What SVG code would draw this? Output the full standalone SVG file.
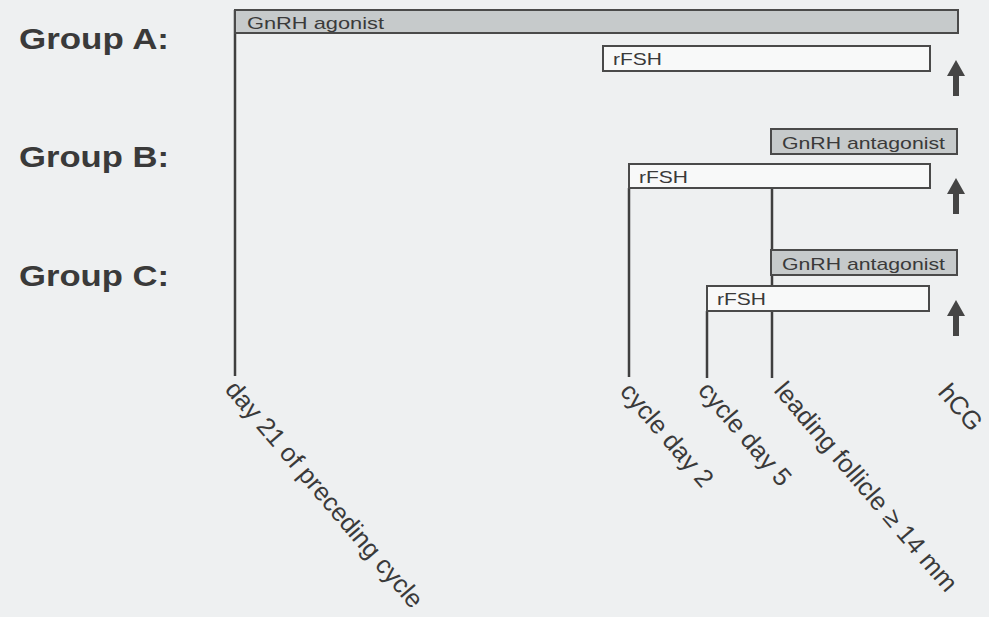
<svg xmlns="http://www.w3.org/2000/svg" xmlns:xlink="http://www.w3.org/1999/xlink" width="989" height="617" viewBox="0 0 989 617">
  <defs>
    <style>
      .bg { fill: #eef0f1; }
      .grp { font-family: "Liberation Sans", Arial, sans-serif; font-weight: bold; font-size: 30px; fill: #3a3a3a; }
      .lbl { font-family: "Liberation Sans", Arial, sans-serif; font-size: 17px; fill: #3a3a3a; }
      .tp { font-family: "Liberation Sans", Arial, sans-serif; font-size: 25.5px; fill: #3a3a3a; }
      .dark { fill: #c6cacb; stroke: #4a4a4a; stroke-width: 2; }
      .light { fill: #f8f9f9; stroke: #4a4a4a; stroke-width: 2; }
      .vline { stroke: #3f3f3f; stroke-width: 2.5; fill: none; }
      .arrow { fill: #454545; }
    </style>
    <path id="arr" class="arrow" d="M0,0 L9,16 L3,16 L3,36 L-3,36 L-3,16 L-9,16 Z"/>
  </defs>
  <rect class="bg" x="0" y="0" width="989" height="617"/>

  <g id="connectors">
    <line class="vline" x1="235" y1="10" x2="235" y2="376"/>
    <line class="vline" x1="629" y1="188" x2="629" y2="377"/>
    <line class="vline" x1="707" y1="311" x2="707" y2="378"/>
    <line class="vline" x1="772" y1="188" x2="772" y2="378"/>
  </g>

  <g id="group-labels">
    <text class="grp" x="19" y="49" textLength="150" lengthAdjust="spacingAndGlyphs">Group A:</text>
    <text class="grp" x="19" y="167" textLength="150" lengthAdjust="spacingAndGlyphs">Group B:</text>
    <text class="grp" x="19" y="286" textLength="150" lengthAdjust="spacingAndGlyphs">Group C:</text>
  </g>

  <g id="a-agonist">
    <rect class="dark" x="235" y="10" width="723" height="23"/>
    <text class="lbl" x="247" y="29" font-size="19" textLength="137" lengthAdjust="spacingAndGlyphs">GnRH agonist</text>
  </g>
  <g id="a-rfsh">
    <rect class="light" x="603" y="46" width="327" height="25"/>
    <text class="lbl" x="613" y="65" textLength="49" lengthAdjust="spacingAndGlyphs">rFSH</text>
  </g>
  <g id="a-hcg"><use xlink:href="#arr" href="#arr" transform="translate(956,60)"/></g>

  <g id="b-antagonist">
    <rect class="dark" x="771" y="129" width="186" height="25"/>
    <text class="lbl" x="782" y="149" textLength="163" lengthAdjust="spacingAndGlyphs">GnRH antagonist</text>
  </g>
  <g id="b-rfsh">
    <rect class="light" x="629" y="164" width="301" height="24"/>
    <text class="lbl" x="639" y="183" textLength="49" lengthAdjust="spacingAndGlyphs">rFSH</text>
  </g>
  <g id="b-hcg"><use xlink:href="#arr" href="#arr" transform="translate(956,178)"/></g>

  <g id="c-antagonist">
    <rect class="dark" x="771" y="250" width="186" height="25"/>
    <text class="lbl" x="782" y="270" textLength="163" lengthAdjust="spacingAndGlyphs">GnRH antagonist</text>
  </g>
  <g id="c-rfsh">
    <rect class="light" x="707" y="286" width="222" height="25"/>
    <text class="lbl" x="717" y="305" textLength="49" lengthAdjust="spacingAndGlyphs">rFSH</text>
  </g>
  <g id="c-hcg"><use xlink:href="#arr" href="#arr" transform="translate(956,300)"/></g>

  <g id="timepoints">
    <text class="tp" transform="translate(224,390) rotate(49.5)">day 21 of preceding cycle</text>
    <text class="tp" transform="translate(619,392) rotate(49.5)">cycle day 2</text>
    <text class="tp" transform="translate(697,391) rotate(49.5)">cycle day 5</text>
    <text class="tp" transform="translate(773,391) rotate(49.5)">leading follicle ≥ 14 mm</text>
    <text class="tp" font-size="25" transform="translate(937,393) rotate(49.5)">hCG</text>
  </g>
</svg>
